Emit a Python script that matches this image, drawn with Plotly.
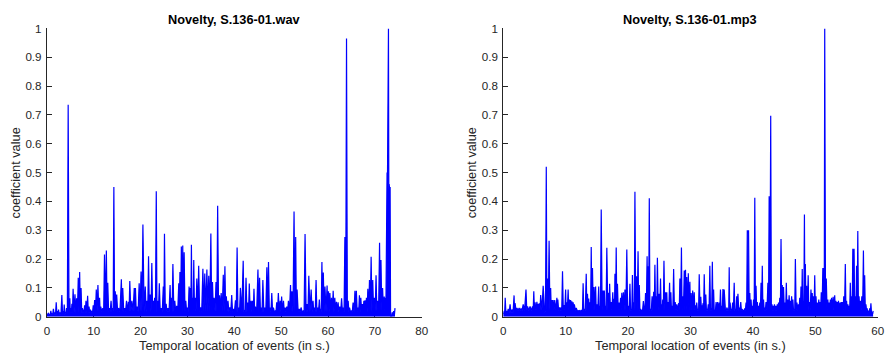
import plotly.graph_objects as go

# ---------------- data ----------------
# Left panel: Novelty, S.136-01.wav  -- spike peaks (time s, value)
wav_time = [0.0, 0.3, 0.6, 0.85, 1.1, 1.4, 1.7, 2.0, 2.3, 2.5, 2.8, 3.2, 3.5, 3.7, 4.0, 4.2, 4.55, 4.9, 5.1, 5.35,
            5.6, 6.0, 6.35, 6.7, 7.0, 7.3, 7.6, 7.8, 8.05, 8.35, 8.7, 9.0, 9.3, 9.6, 9.9, 10.2, 10.55, 10.9, 11.25, 11.5,
            11.95, 12.3, 12.7, 13.0, 13.35, 13.7, 14.0, 14.3, 14.6, 14.9, 15.3, 15.9, 16.2, 16.6, 17.0, 17.4, 17.7, 18.15, 18.65, 18.9,
            19.25, 19.7, 20.1, 20.5, 21.0, 21.35, 21.7, 22.05, 22.4, 22.75, 23.0, 23.35, 23.65, 24.0, 24.4, 24.85, 25.1, 25.45, 25.85, 26.3,
            26.55, 26.9, 27.3, 27.7, 28.15, 28.4, 28.7, 29.0, 29.3, 29.65, 30.0, 30.35, 30.6, 30.85, 31.1, 31.35, 31.65, 32.0, 32.4, 32.8,
            33.3, 33.7, 34.15, 34.55, 35.0, 35.35, 35.7, 36.1, 36.45, 36.85, 37.2, 37.65, 38.0, 38.3, 38.65, 39.05, 39.45, 39.8, 40.25, 40.6,
            40.95, 41.3, 41.9, 42.2, 42.5, 42.9, 43.2, 43.6, 43.9, 44.2, 44.5, 45.05, 45.4, 45.75, 46.1, 46.5, 46.95, 47.3, 47.65, 48.0,
            48.35, 48.75, 49.05, 49.4, 49.8, 50.1, 50.5, 50.85, 51.2, 51.55, 52.0, 52.3, 52.75, 53.1, 53.4, 53.85, 54.25, 54.7, 55.1, 55.55,
            55.9, 56.4, 56.8, 57.1, 57.45, 57.8, 58.15, 58.4, 58.7, 59.0, 59.35, 59.8, 60.1, 60.4, 60.75, 61.1, 61.45, 61.8, 62.15, 62.5,
            62.9, 63.25, 63.6, 63.95, 64.3, 64.6, 65.0, 65.35, 65.75, 66.05, 66.4, 66.7, 67.0, 67.35, 67.65, 67.9, 68.2, 68.5, 68.85, 69.2,
            69.55, 69.9, 70.25, 70.6, 71.0, 71.3, 71.65, 72.0, 72.25, 72.45, 72.6, 72.75, 72.9, 73.05, 73.25, 73.45, 73.7, 74.0, 74.3]
wav_value = [0.005, 0.012, 0.008, 0.02, 0.01, 0.027, 0.012, 0.05, 0.02, 0.025, 0.015, 0.075, 0.02, 0.042, 0.015, 0.03, 0.735, 0.064, 0.03, 0.045,
             0.097, 0.078, 0.064, 0.135, 0.155, 0.1, 0.03, 0.025, 0.04, 0.055, 0.073, 0.035, 0.025, 0.02, 0.04, 0.058, 0.094, 0.11, 0.066, 0.035,
             0.03, 0.216, 0.23, 0.118, 0.03, 0.055, 0.03, 0.45, 0.088, 0.077, 0.03, 0.13, 0.1, 0.03, 0.055, 0.052, 0.124, 0.055, 0.1, 0.1,
             0.035, 0.116, 0.157, 0.32, 0.105, 0.055, 0.21, 0.077, 0.186, 0.055, 0.066, 0.435, 0.055, 0.116, 0.03, 0.105, 0.288, 0.045, 0.03, 0.11,
             0.066, 0.183, 0.055, 0.038, 0.116, 0.155, 0.244, 0.247, 0.224, 0.055, 0.032, 0.105, 0.1, 0.25, 0.066, 0.197, 0.066, 0.133, 0.177, 0.032,
             0.166, 0.15, 0.164, 0.142, 0.289, 0.12, 0.066, 0.12, 0.385, 0.074, 0.082, 0.146, 0.175, 0.071, 0.055, 0.032, 0.075, 0.027, 0.057, 0.24,
             0.032, 0.1, 0.194, 0.02, 0.135, 0.049, 0.115, 0.055, 0.055, 0.097, 0.035, 0.164, 0.135, 0.032, 0.127, 0.032, 0.172, 0.19, 0.032, 0.082,
             0.032, 0.02, 0.05, 0.082, 0.055, 0.07, 0.055, 0.032, 0.035, 0.055, 0.11, 0.088, 0.365, 0.277, 0.094, 0.027, 0.032, 0.02, 0.287, 0.044,
             0.142, 0.094, 0.055, 0.032, 0.127, 0.032, 0.06, 0.027, 0.19, 0.153, 0.105, 0.108, 0.088, 0.082, 0.066, 0.09, 0.066, 0.052, 0.05, 0.035,
             0.064, 0.032, 0.277, 0.965, 0.055, 0.032, 0.02, 0.049, 0.09, 0.09, 0.032, 0.074, 0.066, 0.044, 0.055, 0.057, 0.066, 0.097, 0.127, 0.208,
             0.127, 0.066, 0.144, 0.055, 0.257, 0.197, 0.1, 0.07, 0.066, 0.47, 0.5, 0.72, 1.0, 0.46, 0.45, 0.004, 0.015, 0.02, 0.03]
# floor level of the dense curve between spikes, per time segment
wav_floor_edges = [0, 4, 10, 20, 30, 40, 50, 60, 70, 72.4, 73.35, 75]
wav_floor_vals = [0.008, 0.014, 0.018, 0.016, 0.018, 0.016, 0.016, 0.016, 0.02, 0.44, 0.003]

# Right panel: Novelty, S.136-01.mp3
mp3_time = [0.0, 0.15, 0.32, 0.55, 0.8, 1.1, 1.4, 1.74, 1.9, 2.2, 2.55, 2.85, 3.2, 3.65, 3.9, 4.3, 4.7, 4.9, 5.1, 5.4,
            5.6, 5.8, 6.0, 6.4, 6.65, 6.9, 7.1, 7.35, 7.6, 7.8, 8.0, 8.25, 8.6, 8.75, 9.0, 9.25, 9.5, 9.75, 10.0, 10.15,
            10.4, 10.6, 10.8, 11.0, 11.2, 11.4, 11.7, 12.0, 12.35, 12.6, 12.8, 13.0, 13.3, 13.5, 13.7, 13.9, 14.1, 14.3, 14.55, 14.8,
            15.0, 15.3, 15.45, 15.7, 16.0, 16.2, 16.35, 16.6, 16.9, 17.05, 17.3, 17.55, 17.75, 17.9, 18.1, 18.3, 18.55, 18.8, 19.0, 19.25,
            19.5, 19.8, 20.05, 20.3, 20.5, 20.7, 20.9, 21.1, 21.35, 21.6, 21.8, 22.0, 22.2, 22.45, 22.6, 22.8, 23.05, 23.2, 23.4, 23.6,
            23.85, 24.1, 24.3, 24.5, 24.7, 24.95, 25.2, 25.4, 25.55, 25.75, 26.0, 26.2, 26.4, 26.65, 26.85, 27.05, 27.3, 27.55, 27.8, 28.1,
            28.3, 28.55, 28.75, 29.0, 29.2, 29.4, 29.65, 29.9, 30.1, 30.35, 30.6, 30.8, 31.0, 31.2, 31.4, 31.65, 31.85, 32.0, 32.2, 32.45,
            32.65, 32.85, 33.1, 33.3, 33.5, 33.7, 33.9, 34.1, 34.35, 34.6, 34.8, 35.0, 35.2, 35.4, 35.6, 35.85, 36.05, 36.2, 36.35, 36.55,
            36.75, 37.0, 37.2, 37.4, 37.6, 37.85, 38.05, 38.25, 38.5, 38.7, 38.9, 39.1, 39.3, 39.5, 39.7, 39.9, 40.1, 40.3, 40.5, 40.7,
            40.9, 41.1, 41.3, 41.5, 41.7, 41.9, 42.1, 42.4, 42.6, 42.85, 43.05, 43.25, 43.45, 43.65, 43.9, 44.1, 44.3, 44.5, 44.7, 44.9,
            45.15, 45.35, 45.55, 45.8, 46.0, 46.2, 46.4, 46.6, 46.8, 47.05, 47.3, 47.5, 47.7, 47.9, 48.05, 48.25, 48.4, 48.6, 48.85, 49.05,
            49.3, 49.5, 49.7, 49.9, 50.1, 50.3, 50.55, 50.75, 50.95, 51.2, 51.35, 51.5, 51.75, 52.0, 52.2, 52.4, 52.6, 52.85, 53.1, 53.3,
            53.5, 53.7, 53.95, 54.15, 54.35, 54.55, 54.8, 55.0, 55.2, 55.4, 55.6, 55.8, 56.0, 56.2, 56.4, 56.6, 56.8, 57.0, 57.2, 57.45,
            57.7, 57.9, 58.1, 58.3, 58.5, 58.7, 58.9, 59.1, 59.25]
mp3_value = [0.01, 0.02, 0.066, 0.02, 0.027, 0.043, 0.025, 0.074, 0.047, 0.03, 0.03, 0.028, 0.043, 0.094, 0.036, 0.036, 0.036, 0.088, 0.05, 0.052,
             0.045, 0.047, 0.075, 0.107, 0.013, 0.52, 0.133, 0.264, 0.1, 0.058, 0.058, 0.058, 0.066, 0.06, 0.032, 0.032, 0.158, 0.04, 0.094, 0.05,
             0.094, 0.06, 0.058, 0.054, 0.05, 0.043, 0.03, 0.02, 0.018, 0.022, 0.116, 0.027, 0.149, 0.08, 0.063, 0.05, 0.242, 0.169, 0.103, 0.105,
             0.043, 0.105, 0.038, 0.372, 0.091, 0.091, 0.038, 0.239, 0.083, 0.114, 0.051, 0.085, 0.062, 0.149, 0.24, 0.114, 0.049, 0.066, 0.083, 0.085,
             0.094, 0.233, 0.038, 0.114, 0.027, 0.145, 0.05, 0.434, 0.14, 0.227, 0.11, 0.027, 0.021, 0.054, 0.021, 0.082, 0.21, 0.175, 0.411, 0.027,
             0.071, 0.087, 0.18, 0.071, 0.205, 0.08, 0.133, 0.043, 0.06, 0.194, 0.085, 0.085, 0.051, 0.118, 0.085, 0.038, 0.166, 0.051, 0.043, 0.047,
             0.133, 0.24, 0.071, 0.16, 0.163, 0.138, 0.151, 0.121, 0.082, 0.091, 0.085, 0.04, 0.049, 0.027, 0.147, 0.069, 0.04, 0.047, 0.147, 0.077,
             0.027, 0.043, 0.177, 0.029, 0.191, 0.094, 0.021, 0.051, 0.051, 0.049, 0.094, 0.038, 0.096, 0.094, 0.021, 0.032, 0.027, 0.172, 0.049, 0.027,
             0.049, 0.118, 0.027, 0.071, 0.08, 0.032, 0.051, 0.027, 0.021, 0.029, 0.049, 0.3, 0.3, 0.082, 0.06, 0.038, 0.06, 0.413, 0.107, 0.051,
             0.038, 0.049, 0.118, 0.177, 0.06, 0.032, 0.051, 0.118, 0.418, 0.697, 0.043, 0.038, 0.043, 0.038, 0.043, 0.049, 0.066, 0.27, 0.11, 0.103,
             0.049, 0.118, 0.06, 0.074, 0.055, 0.071, 0.06, 0.027, 0.2, 0.049, 0.043, 0.066, 0.105, 0.166, 0.055, 0.355, 0.183, 0.107, 0.144, 0.051,
             0.094, 0.082, 0.071, 0.144, 0.071, 0.049, 0.06, 0.051, 0.085, 0.169, 0.169, 1.0, 0.133, 0.06, 0.049, 0.06, 0.066, 0.069, 0.074, 0.055,
             0.051, 0.055, 0.049, 0.051, 0.051, 0.071, 0.183, 0.055, 0.043, 0.038, 0.118, 0.071, 0.236, 0.236, 0.071, 0.177, 0.297, 0.071, 0.055, 0.071,
             0.23, 0.144, 0.043, 0.029, 0.021, 0.029, 0.047, 0.015, 0.02]
mp3_floor_edges = [0, 2, 39.05, 39.35, 58.4, 60]
mp3_floor_vals = [0.012, 0.022, 0.29, 0.022, 0.01]

titles = ["Novelty, S.136-01.wav", "Novelty, S.136-01.mp3"]
x_label = "Temporal location of events (in s.)"
y_label = "coefficient value"
y_ticks = [0, 0.1, 0.2, 0.3, 0.4, 0.5, 0.6, 0.7, 0.8, 0.9, 1]
wav_x_ticks = [0, 10, 20, 30, 40, 50, 60, 70, 80]
mp3_x_ticks = [0, 10, 20, 30, 40, 50, 60]


def floor_at(t, edges, vals):
    for i in range(len(vals)):
        if edges[i] <= t < edges[i + 1]:
            return vals[i]
    return vals[-1]


def build_curve(times, values, edges, vals):
    xs, ys = [], []
    for i, (t, v) in enumerate(zip(times, values)):
        xs.append(t)
        ys.append(v)
        if i < len(times) - 1:
            tm = (t + times[i + 1]) / 2
            xs.append(tm)
            ys.append(floor_at(tm, edges, vals))
    return xs, ys


W, H = 892, 361
AX = "#262626"
BLUE = "#0000ff"
FONT = "Liberation Sans, Arial, Helvetica, sans-serif"

fig = go.Figure()
wx, wy = build_curve(wav_time, wav_value, wav_floor_edges, wav_floor_vals)
mx, my = build_curve(mp3_time, mp3_value, mp3_floor_edges, mp3_floor_vals)
fig.add_trace(go.Scatter(x=wx, y=wy, mode="lines", line=dict(color=BLUE, width=1.2),
                         fill="tozeroy", fillcolor=BLUE,
                         xaxis="x", yaxis="y", showlegend=False, hoverinfo="skip"))
fig.add_trace(go.Scatter(x=mx, y=my, mode="lines", line=dict(color=BLUE, width=1.2),
                         fill="tozeroy", fillcolor=BLUE,
                         xaxis="x2", yaxis="y2", showlegend=False, hoverinfo="skip"))

# pixel geometry of the two axes
L = (44.3, 423.0)
R = (505.3, 883.7)
Y0, Y1 = 321.3, 22.3
ydom = [1 - Y0 / H, 1 - Y1 / H]

common_x = dict(showline=True, linecolor=AX, linewidth=1, ticks="inside", ticklen=5, tickcolor=AX,
                showgrid=False, zeroline=False, tickfont=dict(family=FONT, size=11.6, color=AX),
                ticklabelstandoff=3, layer="below traces", fixedrange=True)
common_y = dict(showline=True, linecolor=AX, linewidth=1, ticks="inside", ticklen=5, tickcolor=AX,
                showgrid=False, zeroline=False, tickfont=dict(family=FONT, size=11.6, color=AX),
                range=[0, 1], tickvals=y_ticks, ticktext=[f"{v:g}" for v in y_ticks],
                ticklabelstandoff=2, layer="below traces", fixedrange=True)

fig.update_layout(
    width=W, height=H, margin=dict(l=0, r=0, t=0, b=0), autosize=False,
    paper_bgcolor="white", plot_bgcolor="white",
    xaxis=dict(domain=[L[0] / W, L[1] / W], range=[0, 80], tickvals=wav_x_ticks, anchor="y", **common_x),
    yaxis=dict(domain=ydom, anchor="x", **common_y),
    xaxis2=dict(domain=[R[0] / W, R[1] / W], range=[0, 60], tickvals=mp3_x_ticks, anchor="y2", **common_x),
    yaxis2=dict(domain=ydom, anchor="x2", **common_y),
)

ann = []
for (a, b), title in zip([L, R], titles):
    cx = (a + b) / 2 / W
    ann.append(dict(text=f"<b>{title}</b>", x=cx, y=1 - 12.5 / H, xref="paper", yref="paper",
                    xanchor="center", yanchor="middle", showarrow=False,
                    font=dict(family=FONT, size=12.75, color="#000000")))
    ann.append(dict(text=x_label, x=cx, y=1 - 351.5 / H, xref="paper", yref="paper",
                    xanchor="center", yanchor="middle", showarrow=False,
                    font=dict(family=FONT, size=12.75, color=AX)))
for xc in [13.0, 473.5]:
    ann.append(dict(text=y_label, x=xc / W, y=1 - (Y0 + Y1) / 2 / H, xref="paper", yref="paper",
                    xanchor="center", yanchor="middle", showarrow=False, textangle=-90,
                    font=dict(family=FONT, size=12.75, color=AX)))
fig.update_layout(annotations=ann)

fig.write_html("out.html", config={"responsive": False})
